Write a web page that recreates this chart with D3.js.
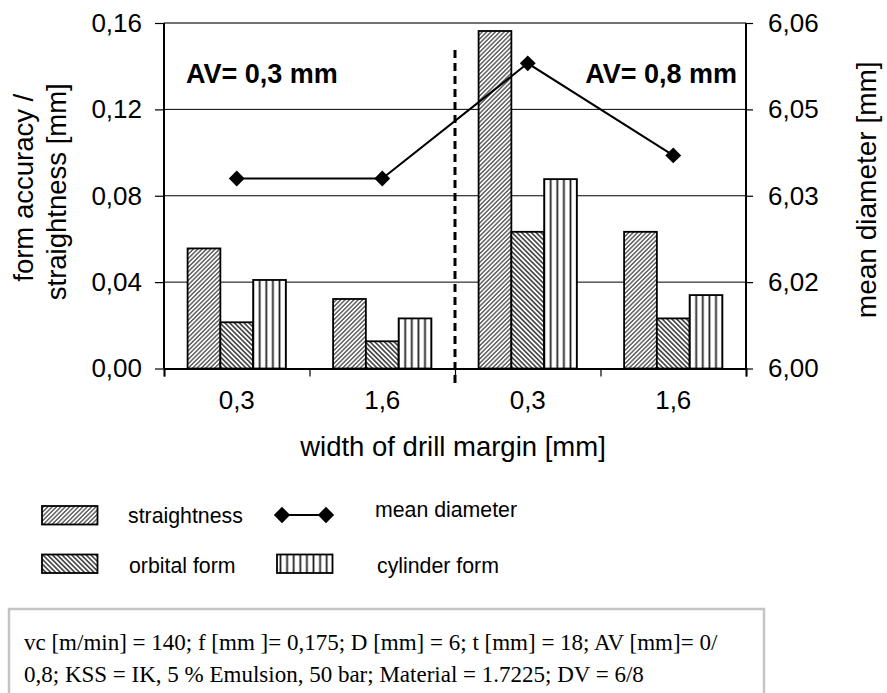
<!DOCTYPE html>
<html>
<head>
<meta charset="utf-8">
<script src="https://cdn.jsdelivr.net/npm/d3@7/dist/d3.min.js"></script>
<style>
  html, body { margin: 0; padding: 0; background: #fff; }
  svg { display: block; }
</style>
</head>
<body>
<svg id="chart" width="887" height="693"></svg>
<script>
// Drill margin widths (two groups of AV = 0,3 mm and AV = 0,8 mm)
const categories = ["0,3", "1,6", "0,3", "1,6"];

// Bar series [mm]
const straightness = [0.0556, 0.0322, 0.1563, 0.0633];
const orbitalForm  = [0.0214, 0.0126, 0.0633, 0.0232];
const cylinderForm = [0.0410, 0.0232, 0.0877, 0.0340];

// Line series on the secondary axis [mm]
const meanDiameter = [6.033, 6.033, 6.053, 6.037];

// Axis ticks
const leftTicks = [0, 0.04, 0.08, 0.12, 0.16];
const leftTickLabels = ["0,00", "0,04", "0,08", "0,12", "0,16"];
const rightTicks = [6.00, 6.015, 6.03, 6.045, 6.06];
const rightTickLabels = ["6,00", "6,02", "6,03", "6,05", "6,06"];

const groupLabels = ["AV= 0,3 mm", "AV= 0,8 mm"];
const noteLines = [
  "vc [m/min] = 140; f [mm ]= 0,175; D [mm] = 6; t [mm] = 18; AV [mm]= 0/",
  "0,8; KSS = IK, 5 % Emulsion, 50 bar; Material = 1.7225; DV = 6/8"
];

const series = [
  { key: "straightness", label: "straightness", values: straightness, fill: "url(#hatchStraight)" },
  { key: "orbital", label: "orbital form", values: orbitalForm, fill: "url(#hatchOrbital)" },
  { key: "cylinder", label: "cylinder form", values: cylinderForm, fill: "url(#hatchCylinder)" }
];

const svg = d3.select("#chart");
const SANS = "'Liberation Sans', Arial, sans-serif";
const SERIF = "'Liberation Serif', 'Times New Roman', serif";

const plot = { left: 164, right: 746, top: 23, bottom: 368.5 };

// ---- patterns ----
const defs = svg.append("defs");
function linePattern(id, spacing, angle, width, color) {
  const p = defs.append("pattern")
    .attr("id", id)
    .attr("patternUnits", "userSpaceOnUse")
    .attr("width", spacing).attr("height", spacing)
    .attr("patternTransform", `rotate(${angle})`);
  p.append("rect").attr("width", spacing).attr("height", spacing).attr("fill", "#fff");
  p.append("line")
    .attr("x1", spacing / 2).attr("x2", spacing / 2)
    .attr("y1", -1).attr("y2", spacing + 1)
    .attr("stroke", color).attr("stroke-width", width);
}
linePattern("hatchStraight", 3.1, 45, 1.2, "#3a3a3a");
linePattern("hatchOrbital", 3.4, -45, 1.5, "#333");
linePattern("hatchCylinder", 6.6, 0, 1.8, "#222");

// ---- scales ----
const idx = d3.range(categories.length);
const x = d3.scaleBand().domain(idx).range([plot.left, plot.right]).paddingInner(0).paddingOuter(0);
const xEdge = d3.scaleLinear().domain([0, categories.length]).range([plot.left, plot.right]);
const xInner = d3.scaleBand().domain(series.map(s => s.key)).range([0, x.bandwidth()])
  .paddingInner(0).paddingOuter(0.72);
const yL = d3.scaleLinear().domain([0, 0.16]).range([plot.bottom, plot.top]);
const yR = d3.scaleLinear().domain([6.00, 6.06]).range([plot.bottom, plot.top]);

// ---- gridlines & frame ----
svg.append("g").selectAll("line")
  .data(leftTicks.slice(1, -1))
  .join("line")
  .attr("x1", plot.left).attr("x2", plot.right)
  .attr("y1", d => yL(d)).attr("y2", d => yL(d))
  .attr("stroke", "#000").attr("stroke-width", 1);

svg.append("line")
  .attr("x1", plot.left).attr("x2", plot.right)
  .attr("y1", yL(0.16)).attr("y2", yL(0.16))
  .attr("stroke", "#444").attr("stroke-width", 1.6);

// ---- bars ----
const groups = svg.append("g").selectAll("g")
  .data(idx)
  .join("g")
  .attr("transform", i => `translate(${x(i)},0)`);

groups.selectAll("rect")
  .data(i => series.map(s => ({ s, v: s.values[i] })))
  .join("rect")
  .attr("x", d => xInner(d.s.key))
  .attr("width", xInner.bandwidth())
  .attr("y", d => yL(d.v))
  .attr("height", d => yL(0) - yL(d.v))
  .attr("fill", d => d.s.fill)
  .attr("stroke", "#000")
  .attr("stroke-width", 1.8);

// ---- axes ----
const axisLeft = d3.axisLeft(yL).tickValues(leftTicks)
  .tickFormat((d, i) => leftTickLabels[i]).tickSize(9).tickPadding(13);
const gL = svg.append("g").attr("transform", `translate(${plot.left},0)`).call(axisLeft);

const axisRight = d3.axisRight(yR).tickValues(rightTicks)
  .tickFormat((d, i) => rightTickLabels[i]).tickSize(7).tickPadding(15);
const gR = svg.append("g").attr("transform", `translate(${plot.right},0)`).call(axisRight);

const axisEdges = d3.axisBottom(xEdge).tickValues(d3.range(categories.length + 1))
  .tickFormat("").tickSize(8);
const gE = svg.append("g").attr("transform", `translate(0,${plot.bottom})`).call(axisEdges);

const axisCats = d3.axisBottom(x).tickFormat(i => categories[i]).tickSize(0).tickPadding(22);
const gC = svg.append("g").attr("transform", `translate(0,${plot.bottom})`).call(axisCats);

[gL, gR, gE, gC].forEach(g => {
  g.select(".domain").attr("stroke", "#000").attr("stroke-width", 2);
  g.selectAll(".tick line").attr("stroke", "#000").attr("stroke-width", 1.2);
  g.selectAll("text").attr("font-family", SANS).attr("font-size", 26).attr("fill", "#000");
});
gC.select(".domain").remove();
gL.select(".domain").attr("d", `M0,${plot.top}V${plot.bottom}`);
gR.select(".domain").attr("d", `M0,${plot.top}V${plot.bottom}`);

// ---- separating dashed line ----
svg.append("line")
  .attr("x1", xEdge(2)).attr("x2", xEdge(2))
  .attr("y1", 50).attr("y2", 386)
  .attr("stroke", "#000").attr("stroke-width", 3)
  .attr("stroke-dasharray", "8,5");

// ---- mean diameter line ----
const line = d3.line().x((d, i) => x(i) + x.bandwidth() / 2).y(d => yR(d));
svg.append("path")
  .datum(meanDiameter)
  .attr("d", line)
  .attr("fill", "none").attr("stroke", "#000").attr("stroke-width", 2);

const diamond = d3.symbol().type(d3.symbolDiamond2).size(160);
svg.append("g").selectAll("path")
  .data(meanDiameter)
  .join("path")
  .attr("transform", (d, i) => `translate(${x(i) + x.bandwidth() / 2},${yR(d)})`)
  .attr("d", diamond)
  .attr("fill", "#000");

// ---- group labels ----
svg.append("text").text(groupLabels[0])
  .attr("x", 186).attr("y", 83)
  .attr("font-family", SANS).attr("font-weight", "bold").attr("font-size", 27);
svg.append("text").text(groupLabels[1])
  .attr("x", 737).attr("y", 83).attr("text-anchor", "end")
  .attr("font-family", SANS).attr("font-weight", "bold").attr("font-size", 27);

// ---- axis titles ----
svg.append("text")
  .attr("transform", `translate(33,${(plot.top + plot.bottom) / 2 - 8}) rotate(-90)`)
  .attr("text-anchor", "middle")
  .attr("font-family", SANS).attr("font-size", 27.5)
  .text("form accuracy /");
svg.append("text")
  .attr("transform", `translate(66,${(plot.top + plot.bottom) / 2 - 4}) rotate(-90)`)
  .attr("text-anchor", "middle")
  .attr("font-family", SANS).attr("font-size", 27.5)
  .text("straightness [mm]");
svg.append("text")
  .attr("transform", `translate(876,${(plot.top + plot.bottom) / 2 - 6}) rotate(-90)`)
  .attr("text-anchor", "middle")
  .attr("font-family", SANS).attr("font-size", 28)
  .text("mean diameter [mm]");
svg.append("text")
  .attr("x", (plot.left + plot.right) / 2 - 2).attr("y", 456)
  .attr("text-anchor", "middle")
  .attr("font-family", SANS).attr("font-size", 27.5)
  .text("width of drill margin [mm]");

// ---- legend ----
const legend = svg.append("g");
const swatches = [
  { s: series[0], x: 42, y: 506, tx: 128, ty: 523 },
  { s: series[1], x: 42, y: 554.5, tx: 129, ty: 573 },
  { s: series[2], x: 277, y: 554.5, tx: 377, ty: 573 }
];
swatches.forEach(d => {
  legend.append("rect")
    .attr("x", d.x).attr("y", d.y).attr("width", 55.5).attr("height", 18.5)
    .attr("fill", d.s.fill).attr("stroke", "#000").attr("stroke-width", 1.8);
  legend.append("text").text(d.s.label)
    .attr("x", d.tx).attr("y", d.ty)
    .attr("font-family", SANS).attr("font-size", 21.3);
});
legend.append("line")
  .attr("x1", 282).attr("x2", 326).attr("y1", 515).attr("y2", 515)
  .attr("stroke", "#000").attr("stroke-width", 2);
legend.selectAll("path.lg")
  .data([282, 326])
  .join("path")
  .attr("class", "lg")
  .attr("transform", d => `translate(${d},515)`)
  .attr("d", d3.symbol().type(d3.symbolDiamond2).size(170))
  .attr("fill", "#000");
legend.append("text").text("mean diameter")
  .attr("x", 375).attr("y", 517)
  .attr("font-family", SANS).attr("font-size", 21.3);

// ---- parameter note ----
svg.append("rect")
  .attr("x", 9).attr("y", 609).attr("width", 755).attr("height", 120)
  .attr("fill", "#fff").attr("stroke", "#c4c4c4").attr("stroke-width", 2.5);
svg.append("g").selectAll("text")
  .data(noteLines)
  .join("text")
  .attr("x", 24).attr("y", (d, i) => 650 + i * 32)
  .attr("font-family", SERIF).attr("font-size", 23)
  .text(d => d);
</script>
</body>
</html>
